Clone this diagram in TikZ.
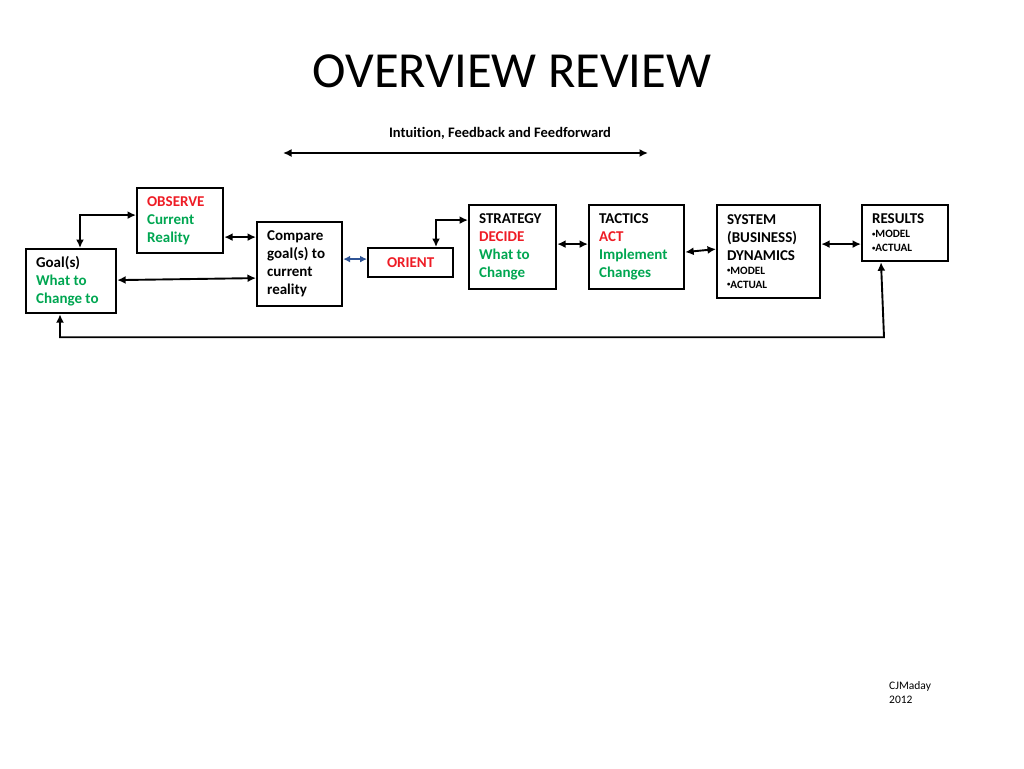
\documentclass[tikz,border=0pt]{standalone}
\usepackage{fontspec}
\setmainfont{Carlito}[Ligatures=CommonOff]
\usetikzlibrary{arrows.meta}
\definecolor{obsred}{HTML}{EE1C25}
\definecolor{actgreen}{HTML}{00A651}
\definecolor{linkblue}{HTML}{2F5496}
\newcommand{\boxfont}{\fontsize{15}{18}\selectfont\bfseries}
\newcommand{\bulletfont}{\fontsize{11.2}{14}\selectfont\bfseries}
\newcommand{\dotmark}{\raisebox{0.3ex}{\scalebox{0.6}{•}}}

\begin{document}
\begin{tikzpicture}[x=1pt,y=-1pt,
  stage/.style={draw, line width=2.2pt, anchor=north west, align=flush left,
    inner xsep=10pt, inner ysep=4pt, font=\boxfont},
  link/.style={line width=1.9pt,
    {Latex[length=8.5pt,width=8pt]}-{Latex[length=8.5pt,width=8pt]}}]
  \useasboundingbox (0,0) rectangle (1024,768);

  \node[font=\fontsize{50.5}{60}\selectfont, inner sep=0pt] (title) at (512,71) {OVERVIEW REVIEW};
  \node[font=\fontsize{14.5}{17}\selectfont\bfseries, inner sep=0pt] (intuition) at (500,133.5)
    {Intuition, Feedback and Feedforward};
  \coordinate (ffL) at (283,153);
  \coordinate (ffR) at (648,153);

  \node[stage, text width=70pt, minimum height=64pt] (goal) at (25,248)
    {Goal(s)\\\textcolor{actgreen}{What to}\\\textcolor{actgreen}{Change to}};
  \node[stage, text width=66pt, minimum height=65pt] (observe) at (136,187)
    {\textcolor{obsred}{OBSERVE}\\\textcolor{actgreen}{Current}\\\textcolor{actgreen}{Reality}};
  \node[stage, text width=65pt, minimum height=84pt] (compare) at (256,221)
    {Compare\\goal(s) to\\current\\reality};
  \node[stage, align=center, text width=65pt, minimum height=29pt] (orient) at (367,247)
    {\textcolor{obsred}{ORIENT}};
  \node[stage, text width=67pt, minimum height=84pt] (strategy) at (468,204)
    {STRATEGY\\\textcolor{obsred}{DECIDE}\\\textcolor{actgreen}{What to}\\\textcolor{actgreen}{Change}};
  \node[stage, text width=75pt, minimum height=84pt] (tactics) at (588,204)
    {TACTICS\\\textcolor{obsred}{ACT}\\\textcolor{actgreen}{Implement}\\\textcolor{actgreen}{Changes}};
  \node[stage, text width=83pt, minimum height=93pt] (system) at (716,204)
    {SYSTEM\\(BUSINESS)\\DYNAMICS\par{\bulletfont \dotmark MODEL\\\dotmark ACTUAL\par}};
  \node[stage, text width=66pt, minimum height=56pt] (results) at (861,204)
    {RESULTS\par{\bulletfont \dotmark MODEL\\\dotmark ACTUAL\par}};

  \node[font=\fontsize{11.5}{14.5}\selectfont, anchor=north west, align=flush left, inner sep=0pt]
    (author) at (889,681) {CJMaday\\2012};

  \draw[link] (ffL) -- (ffR);
  \draw[link] ([xshift=55pt]goal.north west) |- ([yshift=5.5pt]observe.west);
  \draw[link] ([yshift=-16.5pt]observe.east) coordinate (oc) -- (oc -| compare.west);
  \draw[link] ([yshift=1pt]goal.east) -- ([yshift=-14pt]compare.west);
  \draw[link, linkblue, {Latex[length=7pt,width=7pt]}-{Latex[length=7pt,width=7pt]}]
    ([yshift=5pt]compare.east) coordinate (co) -- (co -| orient.west);
  \draw[link] ([xshift=69pt]orient.north west) |- ([yshift=27pt]strategy.west);
  \draw[link] ([yshift=3pt]strategy.east) -- ([yshift=3pt]tactics.west);
  \draw[link] ([yshift=-5pt]tactics.east) -- ([yshift=2.5pt]system.west);
  \draw[link] ([yshift=7.5pt]system.east) -- ([yshift=-11pt]results.west);
  \draw[link] ([xshift=20pt]results.south west) -- ++(3,75) -| ([xshift=35pt]goal.south west);
\end{tikzpicture}
\end{document}
